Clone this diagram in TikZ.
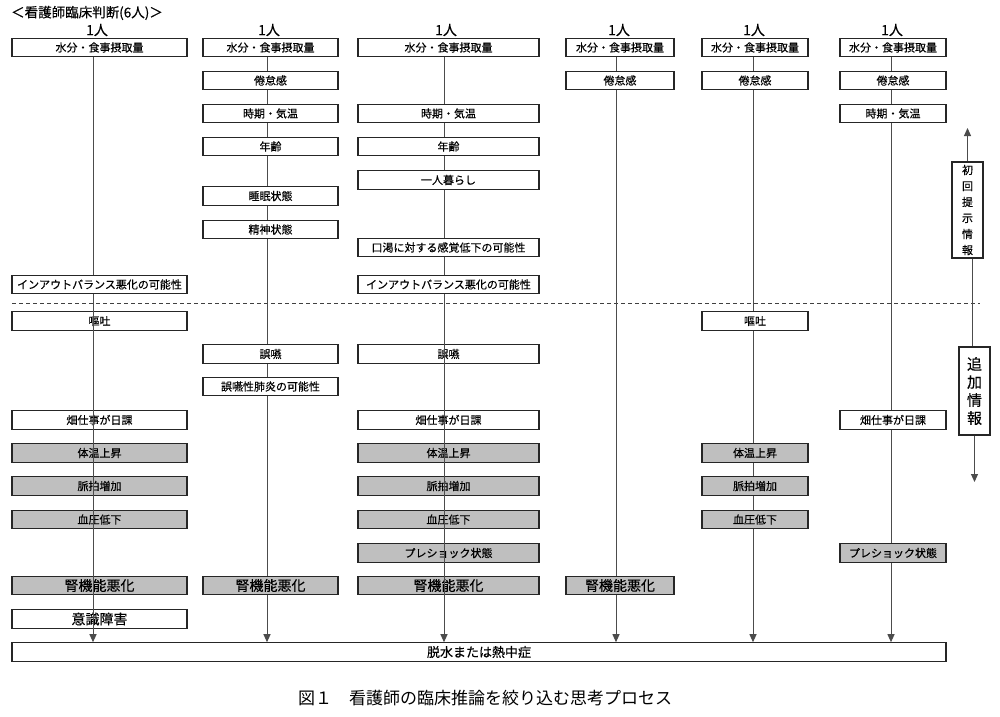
\documentclass[tikz,border=0pt]{standalone}
\usepackage{fontspec}
\setmainfont{Noto Sans CJK JP}[FakeBold=0.35]
\newfontfamily\capfont{Noto Sans CJK JP}
\usetikzlibrary{arrows.meta}
\begin{document}
\begin{tikzpicture}[x=1pt,y=-1pt,
  bx/.style={draw=black!85, fill=white, line width=1.1pt, minimum height=18.5pt, inner sep=0pt, font=\fontsize{11}{11}\selectfont},
  gb/.style={bx, fill=black!25},
  big/.style={font=\fontsize{14}{14}\selectfont},
  w1/.style={minimum width=175pt}, w2/.style={minimum width=135pt}, w3/.style={minimum width=181pt},
  w4/.style={minimum width=108pt}, w5/.style={minimum width=106pt}, w6/.style={minimum width=106pt},
  ln/.style={draw=black!70, line width=1pt},
  arr/.style={ln, -{Triangle[length=8pt,width=7pt]}},
  lab/.style={font=\fontsize{14}{14}\selectfont, inner sep=0pt}]
\useasboundingbox (0,0) rectangle (1000,716);
\fill[white] (0,0) rectangle (1000,716);
% column line positions
\coordinate (x1) at (93,0); \coordinate (x2) at (267,0); \coordinate (x3) at (444,0);
\coordinate (x4) at (616,0); \coordinate (x5) at (753,0); \coordinate (x6) at (891,0);

\node[anchor=west, inner sep=0pt, font=\fontsize{13.5}{13.5}\selectfont] (title) at (11,13) {＜看護師臨床判断(6人)＞};

% people labels
\node[lab] (p1) at (97,30) {1人};
\node[lab] (p2) at (269,30) {1人};
\node[lab] (p3) at (446,30) {1人};
\node[lab] (p4) at (619,30) {1人};
\node[lab] (p5) at (754,30) {1人};
\node[lab] (p6) at (892,30) {1人};

% dashed separator
\coordinate (dl) at (12,303); \coordinate (dr) at (980,303);
\draw[black!75, line width=0.9pt, dash pattern=on 4pt off 3pt] (dl) -- (dr);

% final box
\node[bx, minimum width=934pt, font=\fontsize{13}{13}\selectfont] (end) at (479,652) {脱水または熱中症};

% ---------- column 1
\node[bx,w1] (a1) at (99.5,47.5) {水分・食事摂取量};
\node[bx,w1] (a2) at (99.5,284.5) {インアウトバランス悪化の可能性};
\draw[ln] (a1.south -| x1) -- (a2.north -| x1);
\node[bx,w1] (a3) at (99.5,321) {嘔吐};
\node[bx,w1] (a4) at (99.5,420) {畑仕事が日課};
\node[gb,w1] (a5) at (99.5,453) {体温上昇};
\node[gb,w1] (a6) at (99.5,486) {脈拍増加};
\node[gb,w1] (a7) at (99.5,519.5) {血圧低下};
\node[gb,w1,big] (a8) at (99.5,585.5) {腎機能悪化};
\node[bx,w1,big] (a9) at (99.5,619) {意識障害};
\draw[arr] (a2.south -| x1) -- (end.north -| x1);

% ---------- column 2
\node[bx,w2] (b1) at (270.5,47.5) {水分・食事摂取量};
\node[bx,w2] (b2) at (270.5,80.5) {倦怠感};
\node[bx,w2] (b3) at (270.5,113.5) {時期・気温};
\node[bx,w2] (b4) at (270.5,146.5) {年齢};
\node[bx,w2] (b5) at (270.5,196) {睡眠状態};
\node[bx,w2] (b6) at (270.5,229.5) {精神状態};
\node[bx,w2] (b7) at (270.5,354) {誤嚥};
\node[bx,w2] (b8) at (270.5,386.5) {誤嚥性肺炎の可能性};
\node[gb,w2,big] (b9) at (270.5,585.5) {腎機能悪化};
\foreach \u/\v in {b1/b2,b2/b3,b3/b4,b4/b5,b5/b6,b6/b7,b7/b8,b8/b9}
  \draw[ln] (\u.south -| x2) -- (\v.north -| x2);
\draw[arr] (b9.south -| x2) -- (end.north -| x2);

% ---------- column 3
\node[bx,w3] (c1) at (448.5,47.5) {水分・食事摂取量};
\node[bx,w3] (c2) at (448.5,113.5) {時期・気温};
\node[bx,w3] (c3) at (448.5,146.5) {年齢};
\node[bx,w3] (c4) at (448.5,180) {一人暮らし};
\node[bx,w3] (c5) at (448.5,247.5) {口渇に対する感覚低下の可能性};
\node[bx,w3] (c6) at (448.5,284.5) {インアウトバランス悪化の可能性};
\foreach \u/\v in {c1/c2,c2/c3,c3/c4,c4/c5,c5/c6}
  \draw[ln] (\u.south -| x3) -- (\v.north -| x3);
\node[bx,w3] (c7) at (448.5,354) {誤嚥};
\node[bx,w3] (c8) at (448.5,420) {畑仕事が日課};
\node[gb,w3] (c9) at (448.5,453) {体温上昇};
\node[gb,w3] (c10) at (448.5,486) {脈拍増加};
\node[gb,w3] (c11) at (448.5,519.5) {血圧低下};
\node[gb,w3] (c12) at (448.5,553) {プレショック状態};
\node[gb,w3,big] (c13) at (448.5,585.5) {腎機能悪化};
\draw[arr] (c6.south -| x3) -- (end.north -| x3);

% ---------- column 4
\node[bx,w4] (d1) at (620,47.5) {水分・食事摂取量};
\node[bx,w4] (d2) at (620,80.5) {倦怠感};
\node[gb,w4,big] (d3) at (620,585.5) {腎機能悪化};
\draw[ln] (d1.south -| x4) -- (d2.north -| x4);
\draw[ln] (d2.south -| x4) -- (d3.north -| x4);
\draw[arr] (d3.south -| x4) -- (end.north -| x4);

% ---------- column 5
\node[bx,w5] (e1) at (755,47.5) {水分・食事摂取量};
\node[bx,w5] (e2) at (755,80.5) {倦怠感};
\node[bx,w5] (e3) at (755,321) {嘔吐};
\node[gb,w5] (e4) at (755,453) {体温上昇};
\node[gb,w5] (e5) at (755,486) {脈拍増加};
\node[gb,w5] (e6) at (755,519.5) {血圧低下};
\foreach \u/\v in {e1/e2,e2/e3,e3/e4,e4/e5,e5/e6}
  \draw[ln] (\u.south -| x5) -- (\v.north -| x5);
\draw[arr] (e6.south -| x5) -- (end.north -| x5);

% ---------- column 6
\node[bx,w6] (f1) at (893,47.5) {水分・食事摂取量};
\node[bx,w6] (f2) at (893,80.5) {倦怠感};
\node[bx,w6] (f3) at (893,113.5) {時期・気温};
\node[bx,w6] (f4) at (893,420) {畑仕事が日課};
\node[gb,w6] (f5) at (893,553) {プレショック状態};
\foreach \u/\v in {f1/f2,f2/f3,f3/f4,f4/f5}
  \draw[ln] (\u.south -| x6) -- (\v.north -| x6);
\draw[arr] (f5.south -| x6) -- (end.north -| x6);

% ---------- right side info arrows
\node[draw=black!85, fill=white, line width=1.1pt, minimum width=31pt, minimum height=96pt, inner sep=0pt, align=center, font=\fontsize{11}{16}\selectfont] (sho) at (967.5,210) {初\\回\\提\\示\\情\\報};
\node[draw=black!85, fill=white, line width=1.1pt, minimum width=31pt, minimum height=88pt, inner sep=0pt, align=center, font=\fontsize{15}{18}\selectfont] (tsu) at (974.5,391) {追\\加\\情\\報};
\coordinate (up) at (967.5,128);
\coordinate (dn) at (974.5,482);
\coordinate (xr) at (972,0);
\draw[arr] (sho.north) -- (up);
\draw[ln] (sho.south -| xr) -- (tsu.north -| xr);
\draw[arr] (tsu.south) -- (dn);

% caption
\node[font=\capfont\fontsize{17}{17}\selectfont, inner sep=0pt] (cap) at (485,698) {図１　看護師の臨床推論を絞り込む思考プロセス};
\end{tikzpicture}
\end{document}
